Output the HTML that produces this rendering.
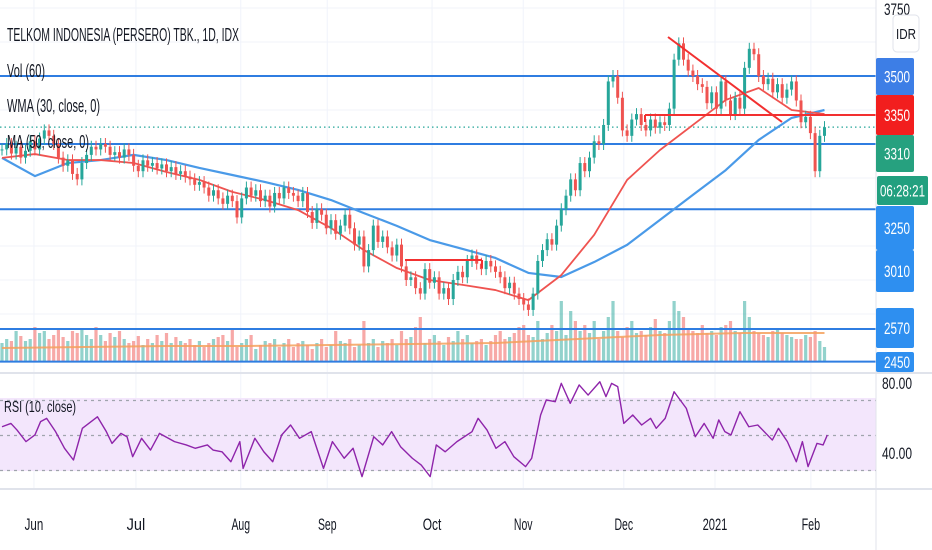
<!DOCTYPE html>
<html><head><meta charset="utf-8">
<style>
html,body{margin:0;padding:0;background:#fff;}
svg{display:block;font-family:"Liberation Sans",sans-serif;}
</style></head>
<body>
<svg id="chart" width="932" height="550" viewBox="0 0 932 550" xmlns="http://www.w3.org/2000/svg">
<g id="grid"></g>
<rect x="0" y="398" width="876" height="73" fill="#f3e6fc"/>
<g id="vol"></g>
<g id="hl"></g>
<g id="ma"></g>
<g id="candles"></g>
<g id="draw"></g>
<g id="rsi"></g>
<line x1="0" y1="373" x2="932" y2="373" stroke="#e0e3eb" stroke-width="2"/>
<line x1="0" y1="489" x2="932" y2="489" stroke="#e0e3eb" stroke-width="2"/>
<line x1="876" y1="0" x2="876" y2="550" stroke="#e0e3eb" stroke-width="1"/>
<g font-size="18" fill="#131722">
<text x="7" y="41" textLength="232" lengthAdjust="spacingAndGlyphs">TELKOM INDONESIA (PERSERO) TBK., 1D, IDX</text>
<text x="7" y="77" textLength="38" lengthAdjust="spacingAndGlyphs">Vol (60)</text>
<text x="7" y="112" textLength="93" lengthAdjust="spacingAndGlyphs">WMA (30, close, 0)</text>
<text x="7" y="148" textLength="82" lengthAdjust="spacingAndGlyphs">MA (50, close, 0)</text>
<text x="4" y="412" font-size="16" textLength="72" lengthAdjust="spacingAndGlyphs">RSI (10, close)</text>
</g>
<g id="axis" font-size="17"></g>
<g id="dates" font-size="17" fill="#131722"></g>
</svg>
<script>
const closes=[3230,3250,3215,3240,3200,3225,3260,3230,3270,3300,
3280,3250,3200,3170,3190,3140,3120,3180,3210,3240,
3230,3250,3240,3210,3220,3200,3230,3210,3170,3150,
3190,3170,3180,3160,3175,3150,3165,3140,3150,3130,
3120,3100,3110,3090,3060,3080,3050,3030,3060,3040,
2980,3050,3090,3060,3080,3040,3060,3020,3070,3050,
3090,3070,3060,3040,3070,3000,2960,3010,2990,2940,
2970,2920,2950,2990,2940,2880,2910,2800,2860,2950,
2890,2910,2870,2840,2880,2800,2750,2760,2720,2700,
2790,2740,2760,2700,2720,2680,2750,2780,2760,2820,
2840,2810,2790,2820,2800,2780,2760,2720,2740,2700,
2680,2660,2640,2700,2820,2860,2900,2880,2950,3010,
3060,3120,3080,3180,3150,3200,3260,3250,3320,3480,
3500,3420,3300,3280,3340,3360,3320,3300,3340,3310,
3330,3320,3380,3560,3620,3560,3520,3500,3470,3460,
3400,3440,3380,3480,3410,3360,3420,3380,3530,3600,
3580,3500,3470,3490,3440,3470,3420,3450,3480,3410,
3330,3350,3290,3150,3280,3312];
const volumes=[18,22,20,30,25,20,22,34,28,30,22,26,32,24,20,30,28,33,26,22,
34,26,20,28,24,30,22,18,20,25,16,22,18,26,20,28,18,24,20,18,
22,16,20,14,18,22,24,26,20,32,14,18,22,26,12,16,20,18,22,14,
18,22,14,18,20,16,12,18,22,14,16,30,20,18,22,14,16,40,18,22,
14,20,18,22,16,30,22,24,34,44,18,22,26,20,16,24,20,30,22,26,
18,20,22,16,20,26,30,22,24,28,34,36,26,24,40,22,28,36,30,60,
26,50,40,30,36,28,40,22,30,44,60,30,24,34,40,28,30,26,34,42,
30,28,40,60,50,44,32,30,28,36,28,30,26,34,36,40,30,28,60,44,
30,28,26,24,30,32,28,26,24,22,22,26,24,30,20,14];
const volMA=[13,14,15,15,16,17,18,22,26,28,28];
const wma=[3199,3213,3191,3191,3180,3147,3118,3074,3044,3007,2941,2860,2794,2750,2732,2713,2676,2768,2916,3118,3228,3320,3412,3456,3375,3360];
const ma50=[3199,3132,3180,3191,3210,3191,3162,3136,3110,3081,3044,2996,2949,2897,2864,2831,2776,2761,2816,2879,2971,3063,3154,3265,3346,3375];
const rsiBar=[0,1.9,3.2,5.1,7,8.2,9.5,11.4,13.3,15.2,17.1,20.3,22.2,23.4,25.3,26.6,27.8,29.7,31.6,33.5,36.7,39.2,41.1,43.7,44.9,46.8,48.7,50.6,51.3,53.8,55.7,57.6,59.5,61.4,63.3,65.8,68.4,70.3,72.8,74.7,76.6,79.1,81,82.9,84.8,87.3,89.2,91.1,92.4,94.3,96.8,100,101.3,103.2,105.1,107,108.9,111.4,112.7,114.6,115.8,117.7,119,120.9,122.8,124.7,127.2,128.5,129.7,131,132.3,134.2,136.1,138,139.2,141.1,143,145.6,147.5,149.4,151.3,152.5,153.8,155.1,157,158.9,160.8,163.9,165.2,167.1,169,170.3,171.5,173.4,174.7,175.6];
const rsiVal=[55,56.9,53.1,46.5,50.3,57.9,59.8,52.2,42.7,36,54.1,60.7,52.2,45.5,51.2,49.3,37.9,48.4,41.7,51.2,46.5,44.6,42.7,44.6,41.7,40.7,35,46.5,31.2,48.4,40.7,35,50.3,56,48.4,52.2,31.2,46.5,37,42.7,26.5,49.3,44.6,52.2,43.6,37,33.1,26.5,44.6,40.7,46.5,52.2,59.8,53.1,42.7,46.5,37.9,32.2,37,61.7,70.3,69.3,79.8,68.4,78.9,73.1,80.7,72.2,79.8,77.9,56.9,61.7,56,59.8,54.1,59.8,75,65.5,49.3,56.9,48.4,58.9,52.2,50.3,63.6,55,56,47.4,54.1,46.5,35,46.5,32.2,45.5,44.6,50.3];
const hLevels=[3500,3250,3010,2570,2450];
const monthLabels=["Jun","Jul","Aug","Sep","Oct","Nov","Dec","2021","Feb"];
const monthBars=[6.8,28.5,50.8,69.2,91.5,110.9,132.3,151.7,172.1];
const axisLabels=["3500","3350","3310","06:28:21","3250","3010","2570","2450"];
const rsiTicks=[80,40];

const NS="http://www.w3.org/2000/svg";
function X(i){return 2+i*4.7;}
function Y(p){return 76+(3500-p)*0.272;}
function VY(v){return 361-v;}
function RY(v){return 383+(80-v)*1.75;}
function mk(tag,attrs,parent){const e=document.createElementNS(NS,tag);for(const k in attrs)e.setAttribute(k,attrs[k]);parent.appendChild(e);return e;}
const G=id=>document.getElementById(id);

monthBars.forEach((b,k)=>{
  const l=mk('line',{x1:X(b),x2:X(b),y1:0,y2:489,stroke:'#f0f3fa','stroke-width':1},G('grid'));
  
  
  const t=mk('text',{x:X(b),y:530,'text-anchor':'middle',textLength:monthLabels[k].length*6.2,lengthAdjust:'spacingAndGlyphs'},G('dates'));
  t.textContent=monthLabels[k];
  
  
});
[3750,3625,3375,3125,2875,2750,2625].forEach(p=>{
  const l=mk('line',{x1:0,x2:876,y1:Y(p),y2:Y(p),stroke:'#f0f3fa','stroke-width':1},G('grid'));
  
  
});

volumes.forEach((v,i)=>{
  const open=i>0?closes[i-1]:closes[i];
  const up=closes[i]>=open;
  const r=mk('rect',{x:X(i)-1.6,y:VY(v),width:3.2,height:v,fill:up?'#26a69a':'#ef5350','fill-opacity':0.5},G('vol'));
  
  
});
{
  const pts=volMA.map((v,k)=>X(k*17.5)+','+VY(v)).join(' ');
  const pl=mk('polyline',{points:pts,fill:'none',stroke:'#f5a15d','stroke-width':2,'stroke-opacity':0.85},G('vol'));
  
  
}

hLevels.forEach(p=>{
  const l=mk('line',{x1:0,x2:880,y1:Y(p),y2:Y(p),stroke:'#2f7de1','stroke-width':2},G('hl'));
  
  
});
{
  const l=mk('line',{x1:0,x2:876,y1:Y(3312),y2:Y(3312),stroke:'#26a69a','stroke-width':1.2,'stroke-dasharray':'1.5,3'},G('hl'));
  
  
}

function poly(arr,color,w,name){
  const pts=arr.map((v,k)=>X(k*7)+','+Y(v)).join(' ');
  const pl=mk('polyline',{points:pts,fill:'none',stroke:color,'stroke-width':w,'stroke-linejoin':'round'},G('ma'));
  
  
}
poly(ma50,'#4a9ae8',2.2,'ma50-line');
poly(wma,'#ef5350',1.8,'wma30-line');

closes.forEach((c,i)=>{
  const o=i>0?closes[i-1]:c;
  const up=c>=o;
  const col=up?'#26a69a':'#ef5350';
  const top=Math.min(Y(o),Y(c)),bot=Math.max(Y(o),Y(c));
  const g=mk('g',{},G('candles'));
  
  
  mk('line',{x1:X(i),x2:X(i),y1:top-6,y2:bot+6,stroke:col,'stroke-width':1},g);
  mk('rect',{x:X(i)-1.5,y:top,width:3,height:Math.max(1,bot-top),fill:col},g);
});

[[668,37,782,122],[645,115,880,115],[405,260,482,260],[482,260,482,268],[645,115,645,122]].forEach(d=>{
  const l=mk('line',{x1:d[0],y1:d[1],x2:d[2],y2:d[3],stroke:'#f23030','stroke-width':2},G('draw'));
  
  
});

[70,50,30].forEach(v=>{
  const l=mk('line',{x1:0,x2:876,y1:RY(v),y2:RY(v),stroke:'#a0a4ad','stroke-width':1.3,'stroke-dasharray':'3,4'},G('rsi'));
  
  
});
{
  const pts=rsiBar.map((b,k)=>X(b)+','+RY(rsiVal[k])).join(' ');
  const pl=mk('polyline',{points:pts,fill:'none',stroke:'#8e24aa','stroke-width':1.4,'stroke-linejoin':'round'},G('rsi'));
  
  
}
rsiTicks.forEach(v=>{
  const t=mk('text',{x:882,y:RY(v)+6,fill:'#131722',textLength:30,lengthAdjust:'spacingAndGlyphs'},G('axis'));
  t.textContent=v.toFixed(2);
  
  
});

const boxes=[[58,95,'#3d7ee6',876,38],[95,135,'#f21e1e',876,38],[135,172,'#26a17f',876,38],[176,205,'#22a07f',877,51],[206,250,'#2e8ff0',876,38],[250,292,'#2e8ff0',876,38],[308,348,'#2e8ff0',876,38],[352,372,'#2e8ff0',876,38]];
boxes.forEach((b,k)=>{
  const r=mk('rect',{x:b[3],y:b[0],width:b[4],height:b[1]-b[0],fill:b[2],rx:2},G('axis'));
  
  
  const t=mk('text',{x:b[3]+(k===3?3:8),y:(b[0]+b[1])/2+6,fill:'#fff',textLength:k===3?45:26,lengthAdjust:'spacingAndGlyphs'},G('axis'));
  t.textContent=axisLabels[k];
  
  
});
{
  const t=mk('text',{x:884,y:15,fill:'#131722',textLength:26,lengthAdjust:'spacingAndGlyphs'},G('axis'));
  t.textContent='3750';
  
  
  const r=mk('rect',{x:893,y:15,width:26,height:37,rx:4,fill:'#fff',stroke:'#e0e3eb'},G('axis'));
  
  
  const t2=mk('text',{x:896,y:39,fill:'#131722','font-size':15,textLength:20,lengthAdjust:'spacingAndGlyphs'},G('axis'));
  t2.textContent='IDR';
  
  
}
</script>
</body></html>
